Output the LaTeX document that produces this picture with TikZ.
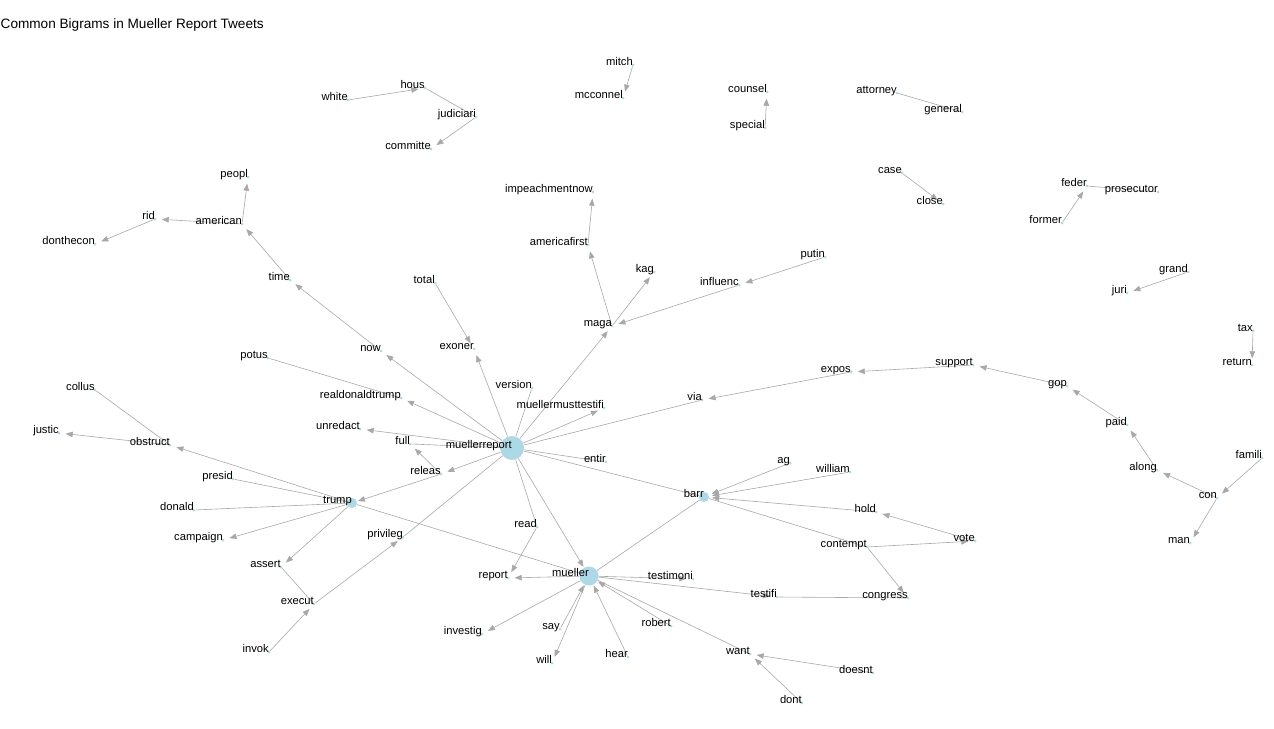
\documentclass[tikz,border=0pt]{standalone}
\usepackage{fontspec}
\setmainfont{Liberation Sans}
\usetikzlibrary{arrows.meta,backgrounds}
\definecolor{edgegray}{RGB}{168,168,168}
\definecolor{nodeblue}{RGB}{173,216,230}
\newcommand\WN[5][3pt]{\node[dot,minimum size=#1] (#2) at (#3,#4) {};\node[lab] (#2-l) at (#3,#4) {#5};}
\begin{document}
\begin{tikzpicture}[x=1pt,y=-1pt,
  dot/.style={circle,fill=nodeblue,inner sep=0pt,minimum size=3pt},
  lab/.style={anchor=base east,inner sep=0pt,font=\fontsize{11.2}{13}\selectfont},
  edge/.style={draw=edgegray,line width=0.6pt},
  arr/.style={edge,-{Triangle[length=7pt,width=5.5pt]},shorten >=5pt},
  arrbig/.style={arr,shorten >=1pt}]
\useasboundingbox (0,0) rectangle (1274,728);
\node[anchor=west,inner sep=0pt,font=\fontsize{13.6}{16}\selectfont] (title) at (0.5,25) {Common Bigrams in Mueller Report Tweets};
% nodes
\WN{white}{348}{100}{white}
\WN{hous}{425}{88}{hous}
\WN{judiciari}{476}{117}{judiciari}
\WN{committe}{431}{149}{committe}
\WN{mitch}{633}{65}{mitch}
\WN{mcconnel}{623}{98}{mcconnel}
\WN{counsel}{767}{92}{counsel}
\WN{special}{765}{128}{special}
\WN{attorney}{897}{93}{attorney}
\WN{general}{962}{112}{general}
\WN{case}{902}{173}{case}
\WN{close}{943}{204}{close}
\WN{feder}{1087}{186}{feder}
\WN{prosecutor}{1158}{192}{prosecutor}
\WN{former}{1062}{223}{former}
\WN{grand}{1188}{272}{grand}
\WN{juri}{1127}{293}{juri}
\WN{tax}{1253}{331}{tax}
\WN{return}{1252}{365}{return}
\WN{peopl}{248}{177}{peopl}
\WN{american}{242}{224}{american}
\WN{rid}{155}{219}{rid}
\WN{donthecon}{95}{244}{donthecon}
\WN{time}{290}{280}{time}
\WN{now}{381}{351}{now}
\WN{total}{435}{283}{total}
\WN{exoner}{474}{349}{exoner}
\WN{impeachmentnow}{593}{192}{impeachmentnow}
\WN{americafirst}{588}{245}{americafirst}
\WN{kag}{654}{272}{kag}
\WN{maga}{612}{326}{maga}
\WN{influenc}{739}{285}{influenc}
\WN{putin}{825}{257}{putin}
\WN{version}{532}{388}{version}
\WN{muellermusttestifi}{604}{408}{muellermusttestifi}
\WN{potus}{268}{358}{potus}
\WN{realdonaldtrump}{401}{398}{realdonaldtrump}
\WN{unredact}{360}{429}{unredact}
\WN{full}{410}{444}{full}
\WN{releas}{441}{474}{releas}
\WN[24pt]{muellerreport}{512}{448}{muellerreport}
\WN{via}{702}{400}{via}
\WN{expos}{851}{372}{expos}
\WN{support}{973}{365}{support}
\WN{gop}{1067}{386}{gop}
\WN{paid}{1127}{425}{paid}
\WN{along}{1157}{470}{along}
\WN{famili}{1262}{458}{famili}
\WN{con}{1217}{498}{con}
\WN{man}{1190}{543}{man}
\WN{collus}{95}{390}{collus}
\WN{justic}{59}{433}{justic}
\WN{obstruct}{170}{445}{obstruct}
\WN{presid}{233}{479}{presid}
\WN{donald}{194}{510}{donald}
\WN{campaign}{223}{540}{campaign}
\WN[10pt]{trump}{352}{503}{trump}
\WN{assert}{281}{567}{assert}
\WN{execut}{314}{604}{execut}
\WN{invok}{269}{652}{invok}
\WN{privileg}{403}{537}{privileg}
\WN{entir}{606}{462}{entir}
\WN[10pt]{barr}{704}{497}{barr}
\WN{ag}{790}{463}{ag}
\WN{william}{850}{472}{william}
\WN{hold}{876}{512}{hold}
\WN{contempt}{867}{547}{contempt}
\WN{vote}{975}{541}{vote}
\WN{congress}{908}{598}{congress}
\WN{testifi}{777}{597}{testifi}
\WN{testimoni}{693}{579}{testimoni}
\WN{read}{537}{527}{read}
\WN{report}{508}{578}{report}
\WN[19pt]{mueller}{589}{576}{mueller}
\WN{investig}{482}{634}{investig}
\WN{say}{560}{629}{say}
\WN{will}{552}{663}{will}
\WN{hear}{628}{657}{hear}
\WN{robert}{671}{626}{robert}
\WN{want}{750}{654}{want}
\WN{doesnt}{873}{673}{doesnt}
\WN{dont}{802}{703}{dont}
% edges
\begin{scope}[on background layer]
\draw[arr] (white) -- (hous);
\draw[edge] (hous) -- (judiciari);
\draw[arr] (judiciari) -- (committe);
\draw[arr] (mitch) -- (mcconnel);
\draw[arr] (special) -- (counsel);
\draw[edge] (attorney) -- (general);
\draw[arr] (case) -- (close);
\draw[arr] (former) -- (feder);
\draw[edge] (feder) -- (prosecutor);
\draw[arr] (grand) -- (juri);
\draw[arr] (tax) -- (return);
\draw[arr] (american) -- (peopl);
\draw[arr] (american) -- (rid);
\draw[arr] (rid) -- (donthecon);
\draw[arr] (time) -- (american);
\draw[arr] (now) -- (time);
\draw[arr] (muellerreport) -- (now);
\draw[arr] (americafirst) -- (impeachmentnow);
\draw[arr] (maga) -- (americafirst);
\draw[arr] (maga) -- (kag);
\draw[arr] (influenc) -- (maga);
\draw[arr] (putin) -- (influenc);
\draw[arr] (muellerreport) -- (maga);
\draw[arr] (total) -- (exoner);
\draw[arr] (muellerreport) -- (exoner);
\draw[edge] (version) -- (muellerreport);
\draw[arr] (muellerreport) -- (muellermusttestifi);
\draw[edge] (potus) -- (realdonaldtrump);
\draw[arr] (muellerreport) -- (realdonaldtrump);
\draw[arr] (muellerreport) -- (unredact);
\draw[edge] (full) -- (muellerreport);
\draw[arr] (releas) -- (full);
\draw[arr] (muellerreport) -- (releas);
\draw[arrbig] (releas) -- (trump);
\draw[edge] (privileg) -- (muellerreport);
\draw[arr] (execut) -- (privileg);
\draw[arr] (invok) -- (execut);
\draw[edge] (assert) -- (execut);
\draw[arr] (trump) -- (assert);
\draw[arr] (trump) -- (campaign);
\draw[edge] (donald) -- (trump);
\draw[edge] (presid) -- (trump);
\draw[arr] (trump) -- (obstruct);
\draw[arr] (obstruct) -- (justic);
\draw[edge] (collus) -- (obstruct);
\draw[edge] (trump) -- (mueller);
\draw[edge] (via) -- (muellerreport);
\draw[arr] (expos) -- (via);
\draw[arr] (support) -- (expos);
\draw[arr] (gop) -- (support);
\draw[arr] (paid) -- (gop);
\draw[arr] (along) -- (paid);
\draw[arr] (con) -- (along);
\draw[arr] (famili) -- (con);
\draw[arr] (con) -- (man);
\draw[edge] (entir) -- (muellerreport);
\draw[edge] (muellerreport) -- (barr);
\draw[edge] (muellerreport) -- (read);
\draw[arr] (read) -- (report);
\draw[arrbig] (muellerreport) -- (mueller);
\draw[arr] (mueller) -- (report);
\draw[arr] (mueller) -- (investig);
\draw[arrbig] (say) -- (mueller);
\draw[arr] (mueller) -- (will);
\draw[arrbig] (hear) -- (mueller);
\draw[arrbig] (robert) -- (mueller);
\draw[edge] (mueller) -- (want);
\draw[arr] (doesnt) -- (want);
\draw[arr] (dont) -- (want);
\draw[arr] (mueller) -- (testimoni);
\draw[arr] (mueller) -- (testifi);
\draw[edge] (testifi) -- (congress);
\draw[arr] (contempt) -- (congress);
\draw[edge] (barr) -- (mueller);
\draw[arr,shorten >=3pt] (ag) -- (barr);
\draw[arr,shorten >=3pt] (william) -- (barr);
\draw[arr,shorten >=3pt] (hold) -- (barr);
\draw[edge] (barr) -- (contempt);
\draw[arr] (vote) -- (hold);
\draw[arr] (contempt) -- (vote);
\end{scope}
\end{tikzpicture}
\end{document}
